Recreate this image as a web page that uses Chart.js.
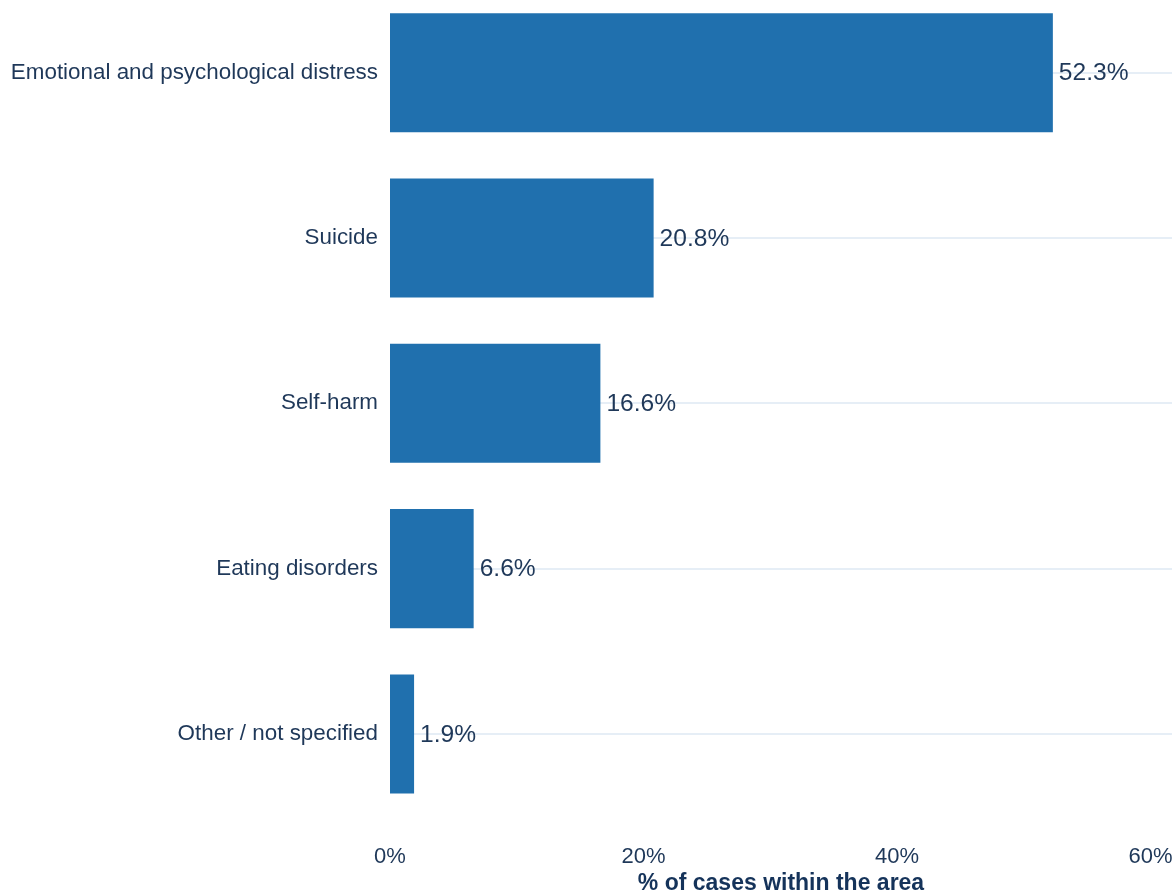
<!DOCTYPE html>
<html>
<head>
<meta charset="utf-8">
<script src="https://cdn.jsdelivr.net/npm/chart.js@4/dist/chart.umd.min.js"></script>
<style>
  html, body { margin: 0; padding: 0; background: #fff; overflow: hidden; }
  /* a área do gráfico começa um pouco acima do topo da página */
  #wrap { width: 1175px; height: 905px; margin-top: -10px; }
</style>
</head>
<body>
<div id="wrap"><canvas id="chart"></canvas></div>
<script>
const categorias = [
    'Emotional and psychological distress',
    'Suicide',
    'Self-harm',
    'Eating disorders',
    'Other / not specified'
];
const percentuais = [52.3, 20.8, 16.6, 6.6, 1.9];
const ticksX = [0, 20, 40, 60];

const corBarra = '#2070ae';
const corTexto = '#1f3859';
const fonte = "'Liberation Sans', Arial, sans-serif";

// escreve o valor ao lado de cada barra
const rotulosValor = {
    id: 'rotulosValor',
    afterDatasetsDraw(chart) {
        const { ctx } = chart;
        const meta = chart.getDatasetMeta(0);
        ctx.save();
        ctx.font = `24.6px ${fonte}`;
        ctx.fillStyle = corTexto;
        ctx.textAlign = 'left';
        ctx.textBaseline = 'middle';
        meta.data.forEach((bar, i) => {
            ctx.fillText(percentuais[i].toFixed(1) + '%', bar.x + 6, bar.y + 1);
        });
        ctx.restore();
    }
};

const ctx = document.getElementById('chart');

new Chart(ctx, {
    type: 'bar',
    data: {
        labels: categorias,
        datasets: [{
            data: percentuais,
            backgroundColor: corBarra,
            borderWidth: 0,
            barPercentage: 1,
            categoryPercentage: 0.72
        }]
    },
    plugins: [rotulosValor],
    options: {
        indexAxis: 'y',
        responsive: true,
        maintainAspectRatio: false,
        animation: false,
        layout: {
            padding: { top: 0, right: 3, bottom: 0, left: 10 }
        },
        scales: {
            x: {
                min: 0,
                max: 61.7,
                afterBuildTicks: (scale) => {
                    scale.ticks = ticksX.map(v => ({ value: v }));
                },
                // altura fixa do eixo e sem folga extra nas pontas
                afterFit: (scale) => {
                    scale.height = 78.4;
                    scale.paddingLeft = 0;
                    scale.paddingRight = 0;
                },
                grid: { display: false, drawTicks: false },
                border: { display: false },
                ticks: {
                    padding: 27,
                    color: corTexto,
                    font: { size: 22, family: fonte },
                    callback: (v) => v + '%'
                },
                title: {
                    display: true,
                    text: '% of cases within the area',
                    color: '#15335a',
                    padding: { top: 2, bottom: 0 },
                    font: { size: 23, weight: 'bold', family: fonte, lineHeight: 1 }
                }
            },
            y: {
                afterFit: (scale) => {
                    scale.width = 380;
                    scale.paddingTop = 0;
                    scale.paddingBottom = 0;
                },
                grid: {
                    offset: false,
                    drawTicks: false,
                    color: '#e6eef6',
                    lineWidth: 2
                },
                border: { display: false },
                ticks: {
                    padding: 12,
                    color: corTexto,
                    font: { size: 22.4, family: fonte }
                }
            }
        },
        plugins: {
            legend: { display: false },
            tooltip: { enabled: false }
        }
    }
});
</script>
</body>
</html>
